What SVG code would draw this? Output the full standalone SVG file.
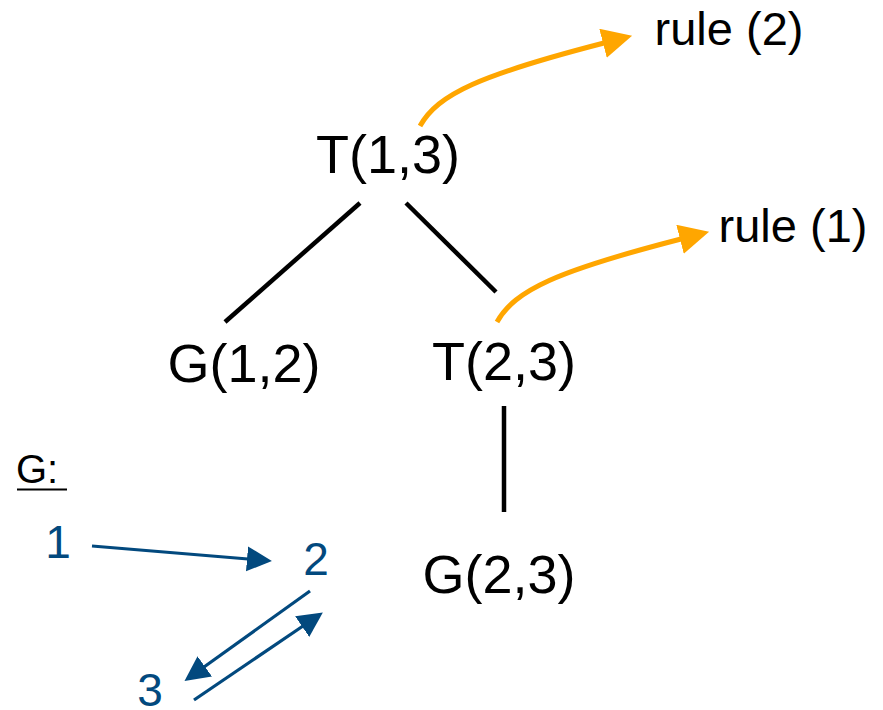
<svg xmlns="http://www.w3.org/2000/svg" width="883" height="710" viewBox="0 0 883 710">
  <style>
    .node { font-family: "Liberation Sans", Arial, sans-serif; font-size: 54px; fill: #000; text-anchor: middle; }
    .rule { font-family: "Liberation Sans", Arial, sans-serif; font-size: 47px; fill: #000; text-anchor: middle; }
    .gnum { font-family: "Liberation Sans", Arial, sans-serif; font-size: 46px; fill: #02497E; text-anchor: middle; }
    .glabel { font-family: "Liberation Sans", Arial, sans-serif; font-size: 40px; fill: #000; }
    .tree { stroke: #000; stroke-width: 4.5; fill: none; }
    .rulearrow { stroke: #FFA600; stroke-width: 5; fill: none; marker-end: url(#headOrange); }
    .edge { stroke: #02497E; stroke-width: 3.2; fill: none; marker-end: url(#headBlue); }
  </style>
  <defs>
    <marker id="headOrange" markerUnits="userSpaceOnUse" markerWidth="31" markerHeight="31" refX="1" refY="15" orient="auto">
      <path d="M0,0 L30,15 L0,30 z" fill="#FFA600"/>
    </marker>
    <marker id="headBlue" markerUnits="userSpaceOnUse" markerWidth="26" markerHeight="26" refX="1" refY="12.5" orient="auto">
      <path d="M0,0 L25,12.5 L0,25 z" fill="#02497E"/>
    </marker>
  </defs>

  <rect width="883" height="710" fill="#fff"/>

  <!-- derivation tree edges and rule pointers -->
  <g id="connectors">
    <line class="tree" x1="360" y1="203" x2="225" y2="322"/>
    <line class="tree" x1="406" y1="203" x2="496" y2="292"/>
    <line class="tree" x1="504" y1="406" x2="504" y2="512"/>
    <path class="rulearrow" d="M420,126 C438,94 480,75 604,43"/>
    <path class="rulearrow" d="M497,322 C515,290 557,271 681,239"/>
  </g>

  <!-- tree nodes -->
  <g id="node-T13"><text class="node" x="388" y="173">T(1,3)</text></g>
  <g id="node-G12"><text class="node" x="244" y="382">G(1,2)</text></g>
  <g id="node-T23"><text class="node" x="504" y="380">T(2,3)</text></g>
  <g id="node-G23"><text class="node" x="499" y="593">G(2,3)</text></g>
  <g id="rule2"><text class="rule" x="729" y="45">rule (2)</text></g>
  <g id="rule1"><text class="rule" x="793" y="242">rule (1)</text></g>

  <!-- graph G -->
  <g id="graph-label">
    <text class="glabel" x="16" y="483">G:</text>
    <line x1="17" y1="489.5" x2="67" y2="489.5" stroke="#000" stroke-width="2"/>
  </g>
  <g id="g-node-1"><text class="gnum" x="58" y="558">1</text></g>
  <g id="g-node-2"><text class="gnum" x="316" y="575">2</text></g>
  <g id="g-node-3"><text class="gnum" x="150" y="706">3</text></g>
  <g id="graph-edges">
    <line class="edge" x1="92" y1="546" x2="248" y2="559"/>
    <line class="edge" x1="310" y1="591" x2="204" y2="667"/>
    <line class="edge" x1="194" y1="700" x2="303" y2="626"/>
  </g>
</svg>
